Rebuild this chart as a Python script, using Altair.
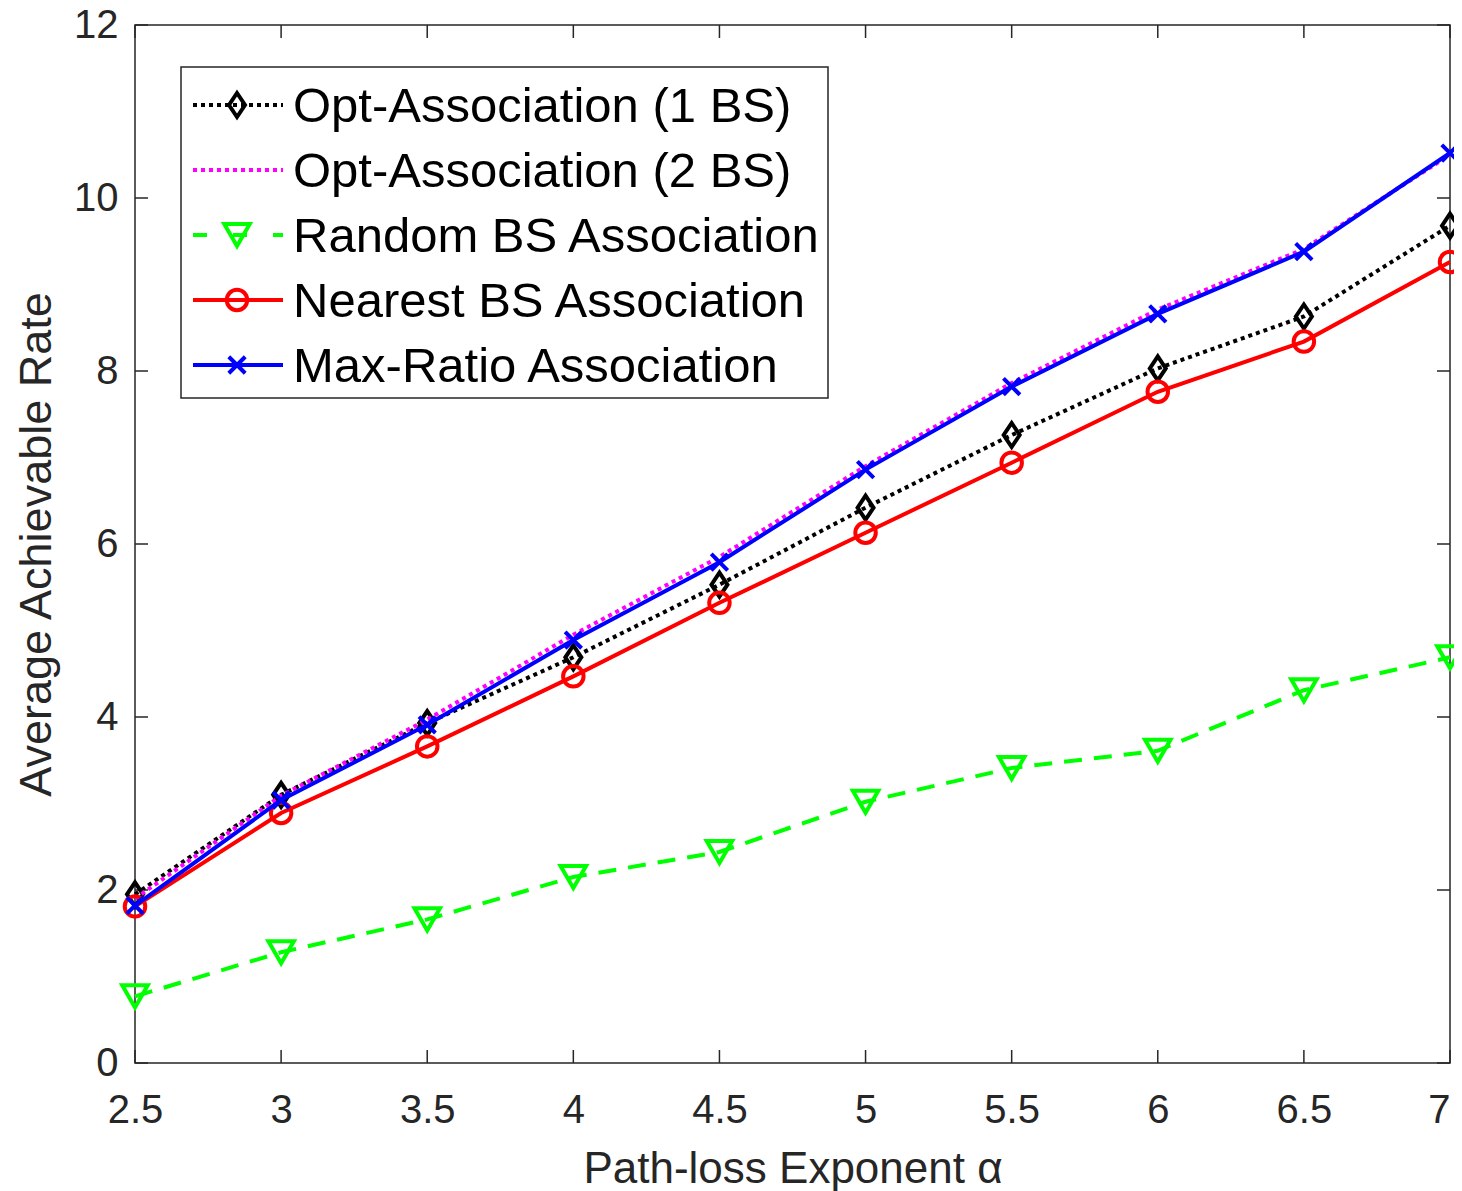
import altair as alt
import pandas as pd

# ---------------- data ----------------
alpha = [2.5, 3, 3.5, 4, 4.5, 5, 5.5, 6, 6.5, 7]
opt1 = [1.95, 3.10, 3.93, 4.69, 5.53, 6.42, 7.26, 8.03, 8.63, 9.68]
opt2 = [1.90, 3.09, 3.97, 4.95, 5.85, 6.90, 7.86, 8.71, 9.41, 10.50]
random_bs = [0.77, 1.28, 1.66, 2.15, 2.44, 3.02, 3.41, 3.61, 4.31, 4.69]
nearest = [1.81, 2.89, 3.66, 4.47, 5.32, 6.13, 6.94, 7.76, 8.34, 9.26]
maxratio = [1.82, 3.04, 3.91, 4.89, 5.79, 6.86, 7.82, 8.66, 9.38, 10.52]

x_ticks = [2.5, 3, 3.5, 4, 4.5, 5, 5.5, 6, 6.5, 7]
y_ticks = [0, 2, 4, 6, 8, 10, 12]

names = ["Opt-Association (1 BS)", "Opt-Association (2 BS)", "Random BS Association",
         "Nearest BS Association", "Max-Ratio Association"]
values = [opt1, opt2, random_bs, nearest, maxratio]

# styles (line colour, dash, marker shape, marker size)
X_PATH = "M-1,-1L1,1M-1,1L1,-1"
DIAMOND_PATH = "M0,-1.2L0.8,0L0,1.2L-0.8,0Z"
styles = [
    dict(color="#000000", dash=[4, 4], shape=DIAMOND_PATH, size=400),
    dict(color="#ff00ff", dash=[4, 4], shape=None, size=0),
    dict(color="#00ff00", dash=[18, 12], shape="triangle-down", size=650),
    dict(color="#ff0000", dash=None, shape="circle", size=420),
    dict(color="#0000ff", dash=None, shape=X_PATH, size=270),
]

W, H = 1315, 1038
FONT = "Liberation Sans"
AXC = "#262626"
LW = 4

xs = alt.Scale(domain=[2.5, 7], nice=False, zero=False)
ys = alt.Scale(domain=[0, 12], nice=False, zero=False)

layers = []

# tick marks (inside, on all four sides)
xt = pd.DataFrame({"x": x_ticks})
yt = pd.DataFrame({"y": y_ticks})
tick_kw = dict(color=AXC, strokeWidth=1.5)
layers.append(alt.Chart(xt).mark_rule(**tick_kw).encode(
    x=alt.X("x:Q", scale=xs), y=alt.value(H), y2=alt.value(H - 13)))
layers.append(alt.Chart(xt).mark_rule(**tick_kw).encode(
    x=alt.X("x:Q", scale=xs), y=alt.value(0), y2=alt.value(13)))
layers.append(alt.Chart(yt).mark_rule(**tick_kw).encode(
    y=alt.Y("y:Q", scale=ys), x=alt.value(0), x2=alt.value(13)))
layers.append(alt.Chart(yt).mark_rule(**tick_kw).encode(
    y=alt.Y("y:Q", scale=ys), x=alt.value(W), x2=alt.value(W - 13)))

# base axis layer
base = alt.Chart(pd.DataFrame({"x": alpha, "y": opt1})).mark_point(opacity=0).encode(
    x=alt.X("x:Q", scale=xs,
            axis=alt.Axis(values=x_ticks, format="~g", title="Path-loss Exponent α",
                          tickSize=0, domain=False, grid=False, labelFontSize=40,
                          labelPadding=27, titleFontSize=44, titlePadding=17,
                          labelAlign={"condition": {"test": "datum.value >= 7", "value": "right"},
                                      "value": "center"},
                          labelColor=AXC, titleColor=AXC, labelFont=FONT, titleFont=FONT,
                          titleFontWeight="normal", labelFlush=False)),
    y=alt.Y("y:Q", scale=ys,
            axis=alt.Axis(values=y_ticks, format="~g", title="Average Achievable Rate",
                          tickSize=0, domain=False, grid=False, labelFontSize=40,
                          labelPadding=17, titleFontSize=45, titlePadding=14,
                          labelColor=AXC, titleColor=AXC, labelFont=FONT, titleFont=FONT,
                          titleFontWeight="normal", labelFlush=False)),
)
layers.append(base)

# series
for name, vals, st in zip(names, values, styles):
    df = pd.DataFrame({"x": alpha, "y": vals, "series": name})
    line_kw = dict(color=st["color"], strokeWidth=LW)
    if st["dash"]:
        line_kw["strokeDash"] = st["dash"]
    layers.append(alt.Chart(df).mark_line(**line_kw).encode(
        x=alt.X("x:Q", scale=xs), y=alt.Y("y:Q", scale=ys)))
    if st["shape"]:
        layers.append(alt.Chart(df).mark_point(
            shape=st["shape"], size=st["size"], filled=False, color=st["color"],
            strokeWidth=LW, opacity=1).encode(
            x=alt.X("x:Q", scale=xs), y=alt.Y("y:Q", scale=ys)))

# legend (drawn in pixel space inside the plot)
LX0, LY0 = 181 - 135, 67 - 25
LX1, LY1 = 828 - 135, 398 - 25
layers.append(alt.Chart(pd.DataFrame({"a": [0]})).mark_rect(
    fill="white", stroke=AXC, strokeWidth=1.5).encode(
    x=alt.value(LX0), x2=alt.value(LX1), y=alt.value(LY0), y2=alt.value(LY1)))
for i, (name, st) in enumerate(zip(names, styles)):
    ry = 105 - 25 + 65 * i
    one = pd.DataFrame({"label": [name]})
    line_kw = dict(color=st["color"], strokeWidth=LW)
    if st["dash"]:
        line_kw["strokeDash"] = st["dash"] if i != 2 else [14, 26]
    layers.append(alt.Chart(one).mark_rule(**line_kw).encode(
        x=alt.value(193 - 135), x2=alt.value(283 - 135), y=alt.value(ry)))
    if st["shape"]:
        layers.append(alt.Chart(one).mark_point(
            shape=st["shape"], size=st["size"], filled=False, color=st["color"],
            strokeWidth=LW, opacity=1).encode(
            x=alt.value(237 - 135), y=alt.value(ry)))
    layers.append(alt.Chart(one).mark_text(
        align="left", baseline="middle", font=FONT, fontSize=49, color="#000000").encode(
        x=alt.value(293 - 135), y=alt.value(ry + 2), text="label:N"))

chart = alt.layer(*layers).properties(
    width=W, height=H,
    autosize=alt.AutoSizeParams(type="none"),
    padding={"left": 127, "top": 17, "right": 4, "bottom": 135},
    background="white",
).configure_view(stroke=AXC, strokeWidth=1.5)

chart.save("out.html", embed_options={"renderer": "svg", "actions": False})
